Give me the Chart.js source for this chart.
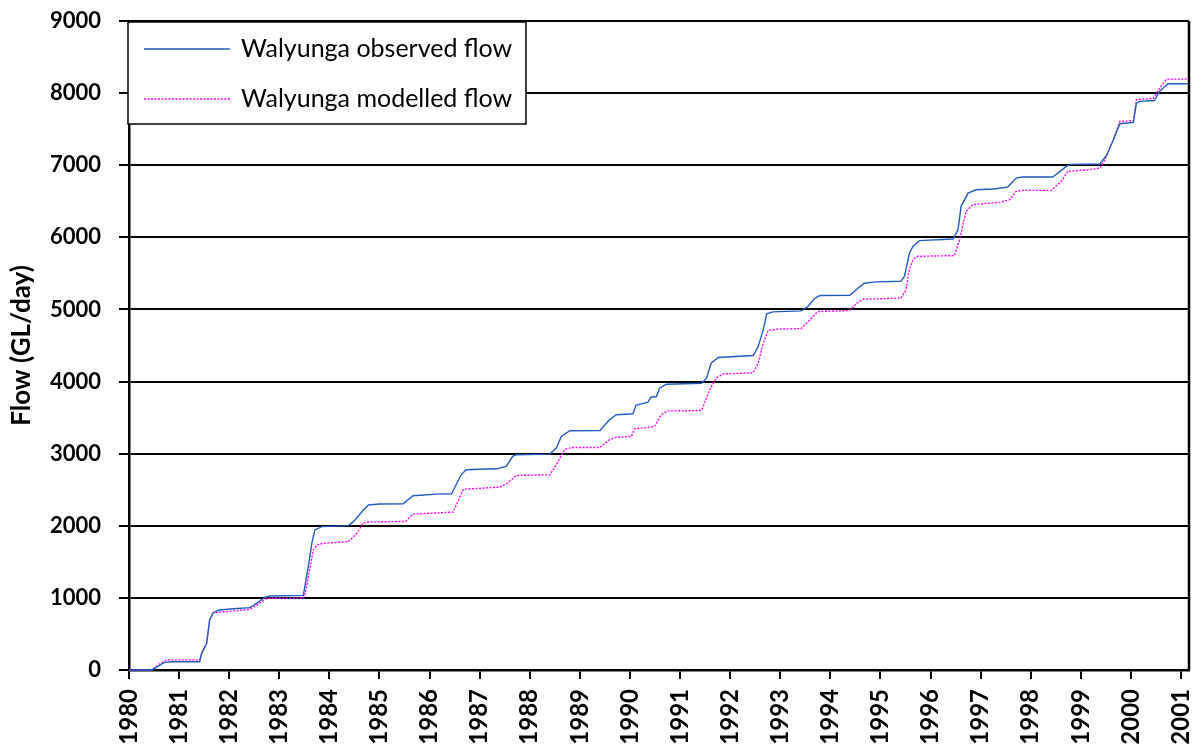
<!DOCTYPE html>
<html>
<head>
<meta charset="utf-8">
<script src="https://cdn.jsdelivr.net/npm/chart.js@4.4.1/dist/chart.umd.min.js"></script>
<style>
  body { margin: 0; background: #ffffff; }
  #wrap { width: 1198px; height: 747px; }
</style>
</head>
<body>
<div id="wrap"><canvas id="flowChart" width="1198" height="747"></canvas></div>
<script>
// tick labels on the x axis
var yearTicks = [1980, 1981, 1982, 1983, 1984, 1985, 1986, 1987, 1988, 1989, 1990,
  1991, 1992, 1993, 1994, 1995, 1996, 1997, 1998, 1999, 2000, 2001];

var seriesNames = ["Walyunga observed flow", "Walyunga modelled flow"];

// observed flow (decimal year, cumulative flow)
var observedYears = [1980.00, 1980.45, 1980.60, 1980.71, 1980.85, 1981.41, 1981.45, 1981.55, 1981.61, 1981.68,
  1981.81, 1982.08, 1982.41, 1982.55, 1982.71, 1982.81, 1983.48, 1983.51, 1983.58, 1983.65,
  1983.71, 1983.85, 1984.38, 1984.48, 1984.68, 1984.78, 1985.00, 1985.47, 1985.67, 1986.14,
  1986.44, 1986.48, 1986.63, 1986.73, 1987.33, 1987.53, 1987.66, 1987.73, 1988.40, 1988.53,
  1988.63, 1988.80, 1989.40, 1989.59, 1989.73, 1990.06, 1990.12, 1990.36, 1990.42, 1990.53,
  1990.59, 1990.73, 1991.43, 1991.53, 1991.62, 1991.76, 1992.46, 1992.56, 1992.66, 1992.73,
  1992.85, 1993.42, 1993.55, 1993.69, 1993.79, 1994.39, 1994.55, 1994.68, 1994.91, 1995.41,
  1995.48, 1995.58, 1995.65, 1995.78, 1996.45, 1996.55, 1996.61, 1996.75, 1996.91, 1997.25,
  1997.54, 1997.71, 1997.84, 1998.44, 1998.71, 1998.78, 1999.38, 1999.52, 1999.65, 1999.78,
  2000.05, 2000.11, 2000.18, 2000.47, 2000.57, 2000.74, 2001.16];
var observedFlow = [0, 0, 60, 106, 115, 115, 231, 370, 693, 795,
  832, 850, 865, 925, 1008, 1026, 1035, 1156, 1433, 1757,
  1942, 1988, 2002, 2057, 2219, 2288, 2302, 2305, 2416, 2439,
  2444, 2499, 2707, 2777, 2790, 2823, 2962, 2985, 2994, 3077,
  3239, 3318, 3322, 3470, 3540, 3553, 3670, 3713, 3783, 3792,
  3908, 3963, 3977, 4046, 4254, 4333, 4361, 4485, 4717, 4939,
  4966, 4980, 5040, 5156, 5193, 5197, 5294, 5364, 5382, 5390,
  5460, 5783, 5875, 5954, 5977, 6106, 6430, 6614, 6660, 6670,
  6697, 6822, 6836, 6836, 6984, 7012, 7016, 7145, 7353, 7575,
  7594, 7861, 7885, 7898, 8023, 8129, 8129];

// modelled flow
var modelledYears = [1980.00, 1980.45, 1980.60, 1980.75, 1981.41, 1981.45, 1981.55, 1981.61, 1981.68, 1981.81,
  1982.41, 1982.55, 1982.75, 1983.48, 1983.51, 1983.58, 1983.68, 1983.75, 1983.88, 1984.38,
  1984.55, 1984.68, 1984.81, 1985.52, 1985.67, 1986.47, 1986.67, 1986.73, 1987.40, 1987.56,
  1987.73, 1988.40, 1988.53, 1988.70, 1988.86, 1989.40, 1989.59, 1989.73, 1990.03, 1990.09,
  1990.49, 1990.62, 1990.75, 1991.43, 1991.59, 1991.72, 1991.86, 1992.46, 1992.56, 1992.66,
  1992.76, 1992.92, 1993.42, 1993.59, 1993.75, 1994.39, 1994.52, 1994.66, 1995.41, 1995.51,
  1995.58, 1995.66, 1995.74, 1996.48, 1996.58, 1996.71, 1996.84, 1997.38, 1997.58, 1997.71,
  1997.84, 1998.41, 1998.61, 1998.74, 1999.18, 1999.38, 1999.48, 1999.65, 1999.78, 2000.05,
  2000.11, 2000.45, 2000.55, 2000.71, 2001.16];
var modelledFlow = [0, 0, 80, 140, 140, 231, 370, 693, 795, 800,
  841, 900, 994, 994, 1040, 1294, 1664, 1734, 1757, 1780,
  1896, 2043, 2053, 2060, 2162, 2190, 2499, 2509, 2536, 2592,
  2698, 2707, 2846, 3063, 3086, 3086, 3193, 3230, 3239, 3345,
  3376, 3538, 3593, 3598, 3884, 4046, 4106, 4120, 4254, 4532,
  4707, 4726, 4735, 4855, 4971, 4985, 5086, 5142, 5156, 5271,
  5560, 5700, 5737, 5746, 5968, 6360, 6453, 6485, 6522, 6637,
  6651, 6651, 6776, 6915, 6938, 6961, 7076, 7353, 7607, 7617,
  7908, 7931, 8046, 8194, 8194];

function toPoints(xs, ys) {
  return xs.map(function (x, i) { return { x: x, y: ys[i] }; });
}

// draws the right edge of the frame and the boxed legend inside the plot
var framePlugin = {
  id: 'frame',
  afterDraw: function (chart) {
    var ctx = chart.ctx;
    var area = chart.chartArea;
    ctx.save();
    ctx.strokeStyle = '#000000';
    ctx.lineWidth = 2.5;
    ctx.beginPath();
    ctx.moveTo(area.right, area.top);
    ctx.lineTo(area.right, area.bottom);
    ctx.stroke();

    // legend box
    var bx = area.left - 1, by = area.top + 1, bw = 398, bh = 102;
    ctx.fillStyle = '#ffffff';
    ctx.fillRect(bx, by, bw, bh);
    ctx.lineWidth = 1.5;
    ctx.strokeRect(bx, by, bw, bh);

    ctx.font = '25px Lato';
    ctx.textBaseline = 'middle';
    ctx.textAlign = 'left';
    chart.data.datasets.forEach(function (ds, i) {
      var rowY = by + 27 + i * 50;
      ctx.strokeStyle = ds.borderColor;
      ctx.lineWidth = 1.3;
      ctx.setLineDash(ds.borderDash || []);
      ctx.beginPath();
      ctx.moveTo(bx + 16, rowY);
      ctx.lineTo(bx + 102, rowY);
      ctx.stroke();
      ctx.setLineDash([]);
      ctx.fillStyle = '#000000';
      ctx.fillText(ds.label, bx + 113, rowY);
    });
    ctx.restore();
  }
};

var ctx = document.getElementById('flowChart').getContext('2d');
var chart = new Chart(ctx, {
  type: 'line',
  data: {
    datasets: [{
      label: seriesNames[0],
      data: toPoints(observedYears, observedFlow),
      borderColor: '#1f5cc0',
      borderWidth: 1.4,
      pointRadius: 0,
      tension: 0,
      clip: 4
    }, {
      label: seriesNames[1],
      data: toPoints(modelledYears, modelledFlow),
      borderColor: '#ff00ff',
      borderWidth: 1.4,
      borderDash: [2, 1.5],
      pointRadius: 0,
      tension: 0,
      clip: 4
    }]
  },
  options: {
    responsive: false,
    animation: false,
    layout: { padding: { top: 21, right: 9, left: 0, bottom: 0 } },
    plugins: {
      legend: { display: false },
      tooltip: { enabled: false }
    },
    scales: {
      x: {
        type: 'linear',
        min: 1980,
        max: 2001.16,
        afterBuildTicks: function (scale) {
          scale.ticks = yearTicks.map(function (v) { return { value: v }; });
        },
        afterFit: function (scale) {
          scale.height = 77;
          scale.paddingLeft = 0;
          scale.paddingRight = 0;
        },
        grid: { display: true, drawOnChartArea: false, drawTicks: true, tickLength: 9, color: '#000000', lineWidth: 2 },
        border: { display: true, color: '#000000', width: 2.5 },
        ticks: {
          color: '#000000',
          font: { family: 'Lato', size: 24, weight: 'bold' },
          minRotation: 90,
          maxRotation: 90,
          autoSkip: false,
          padding: 10,
          callback: function (v) { return String(v); }
        }
      },
      y: {
        min: 0,
        max: 9000,
        afterFit: function (scale) {
          scale.width = 129;
          scale.paddingTop = 0;
          scale.paddingBottom = 0;
        },
        grid: { color: '#000000', lineWidth: 2, drawTicks: true, tickLength: 10 },
        border: { display: true, color: '#000000', width: 2.5 },
        ticks: {
          stepSize: 1000,
          color: '#000000',
          font: { family: 'Lato', size: 22, weight: 'bold' },
          padding: 18,
          callback: function (v) { return String(v); }
        },
        title: {
          display: true,
          text: 'Flow (GL/day)',
          color: '#000000',
          font: { family: 'Lato', size: 26, weight: 'bold' },
          padding: { top: 6, bottom: 0 }
        }
      }
    }
  },
  plugins: [framePlugin]
});
</script>
</body>
</html>
